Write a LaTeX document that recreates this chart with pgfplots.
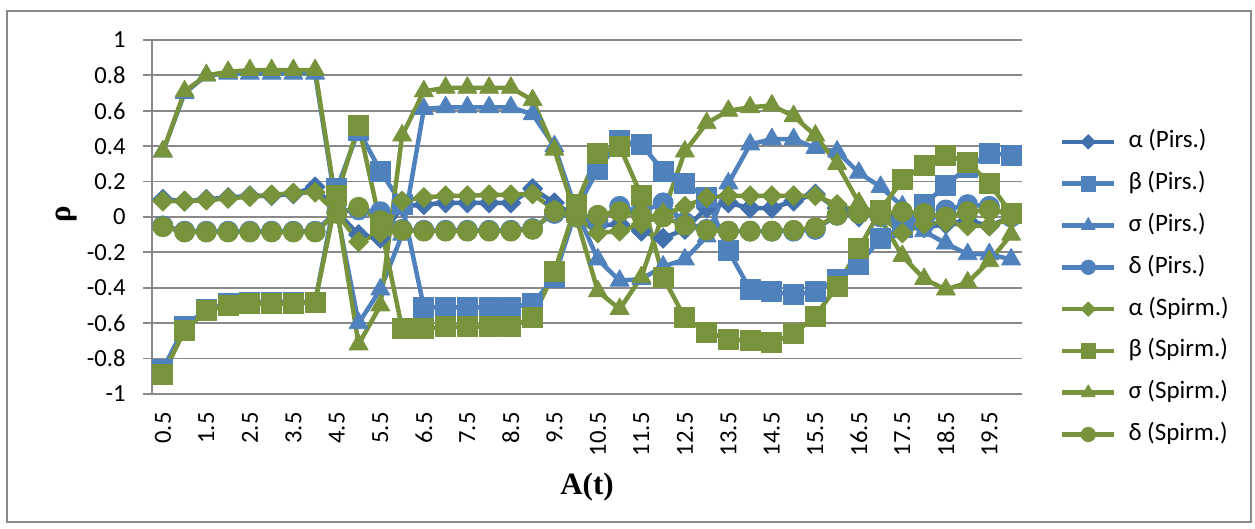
\documentclass[border=0pt]{standalone}
\usepackage{fontspec}
\setmainfont{Carlito}
\newfontfamily\tnr{Liberation Serif}
\usepackage{pgfplots}
\usepackage{pgfplotstable}
\pgfplotsset{compat=1.18}
\definecolor{bluedk}{HTML}{4170AC}
\definecolor{blueP}{HTML}{4F81BD}
\definecolor{greenS}{HTML}{77933C}
\definecolor{gridg}{HTML}{898989}
\pgfplotstableread{
x    aP    bP    sP    dP     aS     bS    sS    dS
0.5  0.10 -0.86  0.37 -0.05   0.09  -0.89  0.37 -0.055
1.0  0.09 -0.62  0.70 -0.08   0.09  -0.64  0.71 -0.085
1.5  0.10 -0.52  0.80 -0.08   0.095 -0.53  0.80 -0.085
2.0  0.11 -0.49  0.81 -0.08   0.105 -0.50  0.82 -0.085
2.5  0.12 -0.48  0.81 -0.08   0.115 -0.49  0.83 -0.085
3.0  0.12 -0.48  0.81 -0.08   0.125 -0.49  0.83 -0.085
3.5  0.13 -0.48  0.81 -0.08   0.135 -0.49  0.83 -0.085
4.0  0.17 -0.48  0.81 -0.08   0.14  -0.48  0.83 -0.085
4.5  0.03  0.16  0.03  0.03   0.02   0.12  0.05  0.02
5.0 -0.10  0.49 -0.60  0.04  -0.14   0.52 -0.72  0.055
5.5 -0.12  0.26 -0.41  0.03  -0.09  -0.04 -0.50 -0.02
6.0  0.06  0.07 -0.10 -0.07   0.09  -0.63  0.46 -0.075
6.5  0.07 -0.51  0.61 -0.075  0.11  -0.63  0.71 -0.08
7.0  0.08 -0.51  0.62 -0.075  0.12  -0.62  0.73 -0.08
7.5  0.08 -0.51  0.62 -0.075  0.12  -0.62  0.73 -0.08
8.0  0.08 -0.51  0.62 -0.075  0.125 -0.62  0.73 -0.08
8.5  0.08 -0.51  0.62 -0.075  0.125 -0.62  0.73 -0.08
9.0  0.16 -0.49  0.58 -0.065  0.13  -0.57  0.66 -0.07
9.5  0.08 -0.34  0.40  0.02   0.04  -0.31  0.38  0.03
10.0 0.00  0.04  0.04  0.00   0.00   0.07  0.00  0.00
10.5 -0.05 0.27 -0.24 -0.02  -0.09   0.36 -0.42  0.01
11.0 -0.04 0.43 -0.36  0.06  -0.08   0.40 -0.52  0.03
11.5 -0.08 0.41 -0.35  0.03  -0.04   0.12 -0.34  0.01
12.0 -0.12 0.26 -0.28  0.08   0.01  -0.34  0.02  0.00
12.5 -0.07 0.19 -0.24 -0.03   0.06  -0.57  0.37 -0.047
13.0 0.05  0.11 -0.11 -0.07   0.11  -0.65  0.53 -0.075
13.5 0.08 -0.19  0.19 -0.08   0.12  -0.69  0.60 -0.08
14.0 0.05 -0.41  0.41 -0.08   0.12  -0.70  0.62 -0.08
14.5 0.05 -0.42  0.44 -0.08   0.12  -0.71  0.63 -0.08
15.0 0.09 -0.44  0.44 -0.08   0.12  -0.66  0.57 -0.075
15.5 0.13 -0.42  0.39 -0.07   0.12  -0.56  0.46 -0.06
16.0 0.05 -0.35  0.37  0.01   0.07  -0.39  0.30  0.01
16.5 0.00 -0.27  0.25  0.02   0.03  -0.18  0.08  0.02
17.0 0.03 -0.12  0.17  0.00   0.00   0.04 -0.01  0.02
17.5 -0.03 -0.06 0.06 -0.03  -0.09   0.21 -0.22  0.03
18.0 -0.06 0.07 -0.08 -0.04  -0.04   0.29 -0.35  0.02
18.5 -0.04 0.18 -0.15  0.04  -0.03   0.35 -0.41  0.00
19.0 -0.02 0.28 -0.21  0.07  -0.05   0.31 -0.37  0.03
19.5 -0.05 0.36 -0.21  0.06  -0.05   0.19 -0.25  0.04
20.0 0.00  0.35 -0.24  0.00  -0.01   0.02 -0.10  0.02
}\data
\begin{document}
\begin{tikzpicture}
\useasboundingbox (0,0) rectangle (627.5pt,264.5pt);
\draw[gridg, line width=0.6pt] (3.5pt,3.5pt) rectangle (625.5pt,259pt);
\begin{axis}[
  at={(76pt,67.5pt)}, anchor=south west,
  scale only axis, width=435pt, height=177pt,
  xmin=0.25, xmax=20.25, ymin=-1, ymax=1,
  axis lines*=left,
  axis line style={draw=gridg, line width=0.9pt},
  ymajorgrids, grid style={draw=gridg, line width=0.9pt},
  tick align=outside, major tick length=4.5pt,
  ytick style={draw=gridg, line width=0.9pt},
  xtick style={draw=none},
  ytick={-1,-0.8,-0.6,-0.4,-0.2,0,0.2,0.4,0.6,0.8,1},
  yticklabels={-1,-0.8,-0.6,-0.4,-0.2,0,0.2,0.4,0.6,0.8,1},
  xtick={0.5,1.5,2.5,3.5,4.5,5.5,6.5,7.5,8.5,9.5,10.5,11.5,12.5,13.5,14.5,15.5,16.5,17.5,18.5,19.5},
  xticklabels={0.5,1.5,2.5,3.5,4.5,5.5,6.5,7.5,8.5,9.5,10.5,11.5,12.5,13.5,14.5,15.5,16.5,17.5,18.5,19.5},
  ticklabel style={font=\fontsize{12.3}{14}\selectfont},
  yticklabel style={anchor=east, inner sep=0pt, xshift=-8.5pt},
  xticklabel style={yshift=-4.5pt, rotate=90, anchor=east, inner sep=0pt},
  xlabel={A(t)}, ylabel={ρ},
  xlabel style={at={(axis description cs:0.5,-0.263)}, anchor=center, font=\tnr\bfseries\fontsize{15.5}{18}\selectfont},
  ylabel style={at={(axis description cs:-0.0977,0.508)}, anchor=center, font=\tnr\bfseries\fontsize{15.5}{18}\selectfont},
  legend style={at={(axis description cs:1.0437,0.746)}, anchor=north west, draw=none, fill=none,
    inner sep=0pt, outer sep=0pt, row sep=8.9pt, column sep=6pt,
    font=\fontsize{12.5}{15}\selectfont,
    nodes={inner sep=0pt, text height=9pt, text depth=3pt}},
  legend cell align=left,
  legend image code/.code={\draw[mark repeat=2,mark phase=2,#1,every mark/.append style={scale=0.72}] plot coordinates {(0pt,0pt) (13pt,0pt) (26pt,0pt)};},
  every axis plot/.append style={line width=2.25pt, line join=round},
]
\addplot[color=bluedk, mark=square*, mark size=3.54pt, mark options={rotate=45, solid, line width=0.4pt, fill=bluedk}] table[x=x,y=aP] {\data};
\addplot[color=blueP, mark=square*, mark size=5pt, mark options={solid, line width=0.4pt, fill=blueP}] table[x=x,y=bP] {\data};
\addplot[color=blueP, mark=triangle*, mark size=5.5pt, mark options={solid, line width=0.4pt, fill=blueP}] table[x=x,y=sP] {\data};
\addplot[color=blueP, mark=*, mark size=5pt, mark options={solid, line width=0.4pt, fill=blueP}] table[x=x,y=dP] {\data};
\addplot[color=greenS, mark=square*, mark size=3.54pt, mark options={rotate=45, solid, line width=0.4pt, fill=greenS}] table[x=x,y=aS] {\data};
\addplot[color=greenS, mark=square*, mark size=5pt, mark options={solid, line width=0.4pt, fill=greenS}] table[x=x,y=bS] {\data};
\addplot[color=greenS, mark=triangle*, mark size=5.5pt, mark options={solid, line width=0.4pt, fill=greenS}] table[x=x,y=sS] {\data};
\addplot[color=greenS, mark=*, mark size=5pt, mark options={solid, line width=0.4pt, fill=greenS}] table[x=x,y=dS] {\data};
\legend{α (Pirs.),β (Pirs.),σ (Pirs.),δ (Pirs.),α (Spirm.),β (Spirm.),σ (Spirm.),δ (Spirm.)}
\end{axis}
\end{tikzpicture}
\end{document}
